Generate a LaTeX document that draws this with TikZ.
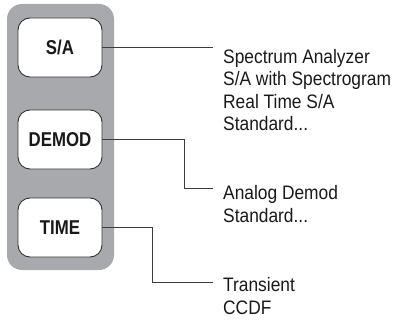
\documentclass[tikz,border=0pt]{standalone}
\usepackage{fontspec}
\setmainfont{Liberation Sans}[FakeStretch=0.89,BoldFeatures={FakeStretch=0.84}]
\begin{document}
\begin{tikzpicture}[x=1pt,y=-1pt,
  panel/.style={fill=panelgray,rounded corners=15pt},
  btn/.style={draw=btnedge,line width=0.9pt,fill=white,rounded corners=12pt,
    minimum width=84pt,minimum height=59pt,inner sep=0pt,
    font=\fontsize{20}{24}\selectfont\bfseries,text=txt},
  lbl/.style={anchor=base west,inner sep=0pt,align=left,
    font=\fontsize{19.5}{22.5}\selectfont,text=txt},
  conn/.style={draw=linecol,line width=1pt}]
\definecolor{panelgray}{RGB}{168,169,172}
\definecolor{btnedge}{RGB}{50,50,50}
\definecolor{linecol}{RGB}{60,60,60}
\definecolor{txt}{RGB}{25,25,25}
\useasboundingbox (0,0) rectangle (396,321);
\fill[panel] (7,4) rectangle (114,270);
\node[btn] (sa) at (60,47.5) {S/A};
\node[btn] (dm) at (60,139.5) {DEMOD};
\node[btn] (tm) at (60,227.5) {TIME};
% anchor base = baseline of the last line
\node[lbl] (salbl) at (223,130.5) {Spectrum Analyzer\\S/A with Spectrogram\\Real Time S/A\\Standard...};
\node[lbl] (dmlbl) at (223,222) {Analog Demod\\Standard...};
\node[lbl] (tmlbl) at (223,314) {Transient\\CCDF};
\coordinate (saend) at (213,48);
\coordinate (dmend) at (213,188);
\coordinate (tmend) at (213,282);
\draw[conn] (sa.east) -- (sa.east -| saend);
\draw[conn] (dm.east) -- ++(82,0) |- (dmend);
\draw[conn] (tm.east) -- ++(50,0) |- (tmend);
\end{tikzpicture}
\end{document}
